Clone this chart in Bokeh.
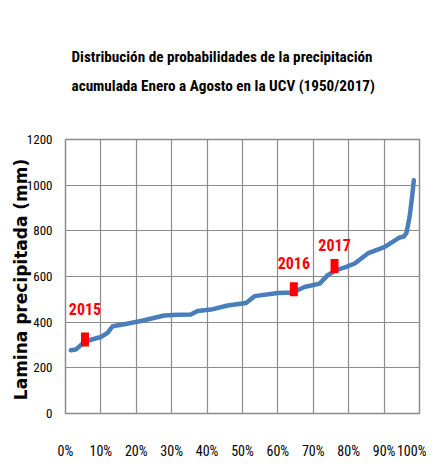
from bokeh.plotting import figure
from bokeh.models import ColumnDataSource, FixedTicker
from bokeh.core.properties import value
from bokeh.embed import file_html
from bokeh.resources import INLINE

# ---- data ----
prob_pct = [1.5, 2.9, 4.8, 6.7, 10.0, 11.9, 13.3, 16.6, 21.3, 27.9, 31.7, 35.4,
            37.3, 41.1, 45.8, 51.0, 53.4, 60.0, 64.2, 67.5, 71.8, 74.1, 76.5,
            79.3, 81.7, 85.4, 90.2, 94.4, 95.6, 96.3, 97.2, 97.9, 98.4]
lamina_mm = [277, 280, 306, 321, 335, 353, 382, 391, 405, 429, 433, 434,
             449, 455, 473, 484, 514, 528, 530, 554, 569, 606, 628,
             642, 657, 701, 730, 771, 775, 790, 861, 948, 1022]

years = ["2015", "2016", "2017"]
year_prob = [5.5, 64.5, 76.0]
year_mm = [324, 544, 646]

x_ticks = [0, 10, 20, 30, 40, 50, 60, 70, 80, 90, 100]
x_tick_labels = ["0%", "10%", "20%", "30%", "40%", "50%", "60%", "70%", "80%", "90%", "100%"]
y_ticks = [0, 200, 400, 600, 800, 1000, 1200]

title_lines = ["Distribución de probabilidades de la precipitación",
               "acumulada Enero a Agosto en la UCV (1950/2017)"]
y_label = "Lamina precipitada  (mm)"

NARROW = "Roboto Condensed"
GRID = "#8c8c8c"

p = figure(width=426, height=468, output_backend="svg", toolbar_location=None,
           x_range=(0, 100), y_range=(0, 1200),
           frame_width=354, frame_height=274,
           min_border_left=65, min_border_right=7, min_border_top=139, min_border_bottom=55)
p.background_fill_color = "white"
p.border_fill_color = "white"
p.outline_line_color = GRID
p.outline_line_width = 1.5

p.xgrid.grid_line_color = GRID
p.ygrid.grid_line_color = GRID
p.xgrid.grid_line_width = 1.2
p.ygrid.grid_line_width = 1.2

p.xaxis.ticker = FixedTicker(ticks=x_ticks)
p.xaxis.major_label_overrides = {t: l for t, l in zip(x_ticks, x_tick_labels)}
p.yaxis.ticker = FixedTicker(ticks=y_ticks)
for ax in (p.xaxis, p.yaxis):
    ax.axis_line_color = None
    ax.major_tick_line_color = None
    ax.minor_tick_line_color = None
    ax.major_tick_out = 0
    ax.major_tick_in = 0
    ax.minor_tick_out = 0
    ax.minor_tick_in = 0
    ax.major_label_text_font = NARROW
    ax.major_label_text_color = "black"
p.xaxis.major_label_text_font_size = "14px"
p.yaxis.major_label_text_font_size = "13px"
p.xaxis.major_label_standoff = 29
p.yaxis.major_label_standoff = 13

p.yaxis.axis_label = y_label
p.yaxis.axis_label_text_font = "DejaVu Sans"
p.yaxis.axis_label_text_font_style = "bold"
p.yaxis.axis_label_text_font_size = "17px"
p.yaxis.axis_label_text_color = "black"
p.yaxis.axis_label_standoff = -7

line_src = ColumnDataSource(dict(x=prob_pct, y=lamina_mm))
p.line("x", "y", source=line_src, line_color="#4a7ebb", line_width=4.5, line_join="round", line_cap="round")

yr_src = ColumnDataSource(dict(x=year_prob, y=year_mm, t=years, off=[-31, -26, -21]))
p.rect("x", "y", source=yr_src, width=8, height=14, width_units="screen", height_units="screen",
       fill_color="#ff0000", line_color=None)
p.text("x", "y", text="t", source=yr_src, y_offset="off", text_align="center", text_baseline="middle",
       text_font=value(NARROW), text_font_style="bold", text_font_size="16px", text_color="#ff0000")

p.title.text = "\n".join(title_lines)
p.title.align = "left"
p.title.offset = 6
p.title.text_font = NARROW
p.title.text_font_style = "bold"
p.title.text_font_size = "15.2px"
p.title.text_color = "black"
p.title.text_line_height = 1.64
p.title.standoff = 88

open("out.html", "w").write(file_html(p, INLINE))
